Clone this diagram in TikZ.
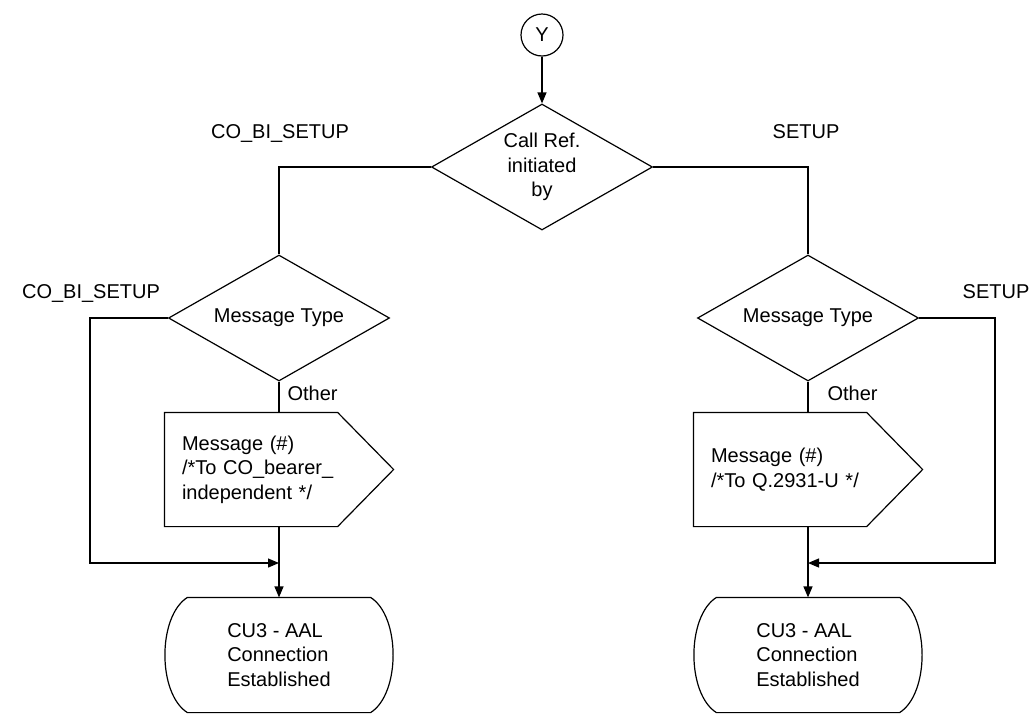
\documentclass[tikz,border=0pt]{standalone}
\usepackage{fontspec}
\setmainfont{Liberation Sans}
\usetikzlibrary{arrows.meta,shapes.geometric,calc}
\begin{document}
\begin{tikzpicture}[x=1pt,y=-1pt,line width=1.2pt,
  every node/.style={font=\fontsize{20}{24.5}\selectfont},
  dec/.style={diamond,draw,aspect=1.75,inner sep=0pt,minimum width=221pt,minimum height=126pt,align=center},
  msg/.style={minimum height=113pt,text width=194pt,inner xsep=17pt,inner ysep=0pt,align=left},
  stbox/.style={minimum width=182pt,minimum height=114pt,inner sep=0pt,align=left},
  lbl/.style={inner sep=0pt,anchor=base},
  arr/.style={-{Triangle[length=11pt,width=9pt]}}]
\useasboundingbox (0,0) rectangle (1036,713);

% nodes
\node[circle,draw,minimum size=42pt,inner sep=0pt] (y) at (542,35) {Y};
\node[dec] (d0) at (542,167) {Call Ref.\\initiated\\by};
\node[dec] (d1) at (279,318) {Message Type};
\node[dec] (d2) at (808,318) {Message Type};
\node[msg] (m1) at (279,469.5) {Message (\#)\\/*To CO\_bearer\_\\independent */};
\node[msg] (m2) at (808,469.5) {Message (\#)\\/*To Q.2931-U */};
\node[stbox] (s1) at (279,655) {CU3 - AAL\\Connection\\Established};
\node[stbox] (s2) at (808,655) {CU3 - AAL\\Connection\\Established};

% output signal outlines
\draw (m1.north west) -- ([xshift=-56pt]m1.north east) -- (m1.east) -- ([xshift=-56pt]m1.south east) -- (m1.south west) -- cycle;
\draw (m2.north west) -- ([xshift=-56pt]m2.north east) -- (m2.east) -- ([xshift=-56pt]m2.south east) -- (m2.south west) -- cycle;

% state outlines
\draw (s1.north west) -- (s1.north east)
  .. controls ($(s1.north east)+(30,19)$) and ($(s1.south east)+(30,-19)$) .. (s1.south east)
  -- (s1.south west)
  .. controls ($(s1.south west)+(-30,-19)$) and ($(s1.north west)+(-30,19)$) .. (s1.north west) -- cycle;
\draw (s2.north west) -- (s2.north east)
  .. controls ($(s2.north east)+(30,19)$) and ($(s2.south east)+(30,-19)$) .. (s2.south east)
  -- (s2.south west)
  .. controls ($(s2.south west)+(-30,-19)$) and ($(s2.north west)+(-30,19)$) .. (s2.north west) -- cycle;

% labels
\node[lbl] (l0) at (280,138) {CO\_BI\_SETUP};
\node[lbl] (r0) at (806,138) {SETUP};
\node[lbl] (l1) at (91,298) {CO\_BI\_SETUP};
\node[lbl] (r1) at (996,298) {SETUP};
\node[inner sep=0pt,anchor=base west] (o1) at (287,400) {Other};
\node[inner sep=0pt,anchor=base west] (o2) at (827,400) {Other};

% junctions
\coordinate (b1) at (90,563);
\coordinate (j1) at (279,563);
\coordinate (b2) at (995,563);
\coordinate (j2) at (808,563);

% connectors
\draw[arr] (y) -- (d0);
\draw (d0.west) -| (d1.north);
\draw (d0.east) -| (d2.north);
\draw (d1.south) -- (m1.north);
\draw (d2.south) -- (m2.north);
\draw[arr] (m1.south) -- (s1.north);
\draw[arr] (m2.south) -- (s2.north);
\draw[arr] (d1.west) -| (b1) -- (j1);
\draw[arr] (d2.east) -| (b2) -- (j2);
\end{tikzpicture}
\end{document}
